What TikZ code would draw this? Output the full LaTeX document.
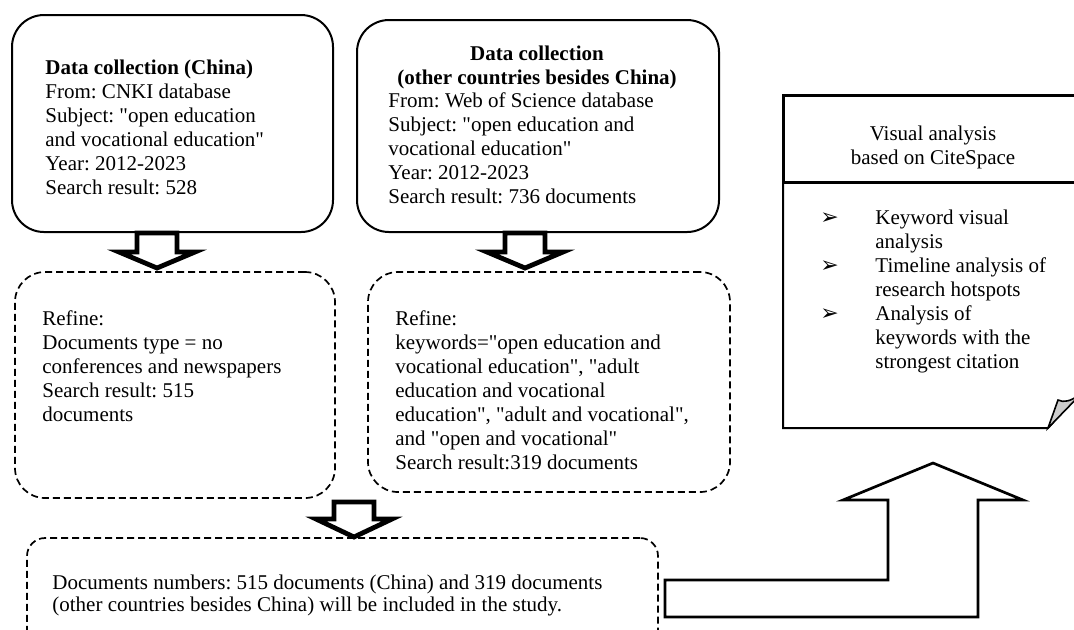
\documentclass[tikz,border=0pt]{standalone}
\usepackage{fontspec}
\setmainfont{Liberation Serif}
\newfontfamily\symfont{DejaVu Sans}
\newcommand{\llines}[1]{\begin{tabular}[t]{@{}l@{}}#1\end{tabular}}
\newcommand{\clines}[1]{\begin{tabular}[t]{@{}c@{}}#1\end{tabular}}
\newcommand{\qq}{\textquotedbl}
\frenchspacing
\begin{document}
\begin{tikzpicture}[x=0.5pt,y=-0.5pt,
  font=\fontsize{10.5}{12}\selectfont,
  solidbox/.style={draw, line width=1pt, rounded corners=16pt, inner sep=0pt},
  dashbox/.style={draw, line width=0.85pt, dash pattern=on 3.5pt off 2pt, rounded corners=15pt, inner sep=0pt},
  blockarrow/.style={draw, line width=2.4pt, fill=white, line join=miter},
  bigarrow/.style={draw, line width=1.35pt, fill=white, line join=miter},
  txt/.style={inner sep=0pt, anchor=base west},
  ctxt/.style={inner sep=0pt, anchor=base},
  bullet/.style={inner sep=0pt, anchor=base west, font=\symfont\fontsize{11}{12}\selectfont},
]
\useasboundingbox (0,0) rectangle (1074,629);
\clip (0,0) rectangle (1074,629);

% boxes
\node[solidbox, minimum width=160.5pt, minimum height=108.5pt] (china) at (172.5,123.5) {};
\node[solidbox, minimum width=181pt, minimum height=106pt] (other) at (538,126) {};
\node[dashbox, minimum width=160pt, minimum height=113pt] (ref1) at (175,385) {};
\node[dashbox, minimum width=181pt, minimum height=110pt] (ref2) at (549,382) {};
\node[dashbox, rounded corners=9pt, minimum width=315.5pt, minimum height=71pt] (final) at (342.5,609) {};

% CiteSpace box
\node[draw, line width=1.5pt, inner sep=0pt, minimum width=153.5pt, minimum height=43.5pt] (head) at (936.5,138.5) {};
\draw[line width=1pt, fill=white] (783,182) -- (783,428) -- (1048,428) -- (1082,390) -- (1082,182);
\filldraw[fill=gray!40, line width=0.8pt] (1048,428) -- (1058,400) .. controls (1064,403) and (1070,401) .. (1080,395) -- cycle;
\draw[line width=1.5pt] (783,182) -- (1082,182);

% texts
\node[txt] (t1) at (45,74) {\llines{\textbf{Data collection (China)}\\From: CNKI database\\Subject: \qq open education\\and vocational education\qq\\Year: 2012-2023\\Search result: 528}};
\node[ctxt] (t2h) at (537,60) {\clines{\textbf{Data collection}\\\textbf{(other countries besides China)}}};
\node[txt] (t2) at (388,107) {\llines{From: Web of Science database\\Subject: \qq open education and\\vocational education\qq\\Year: 2012-2023\\Search result: 736 documents}};
\node[txt] (t3) at (42,325) {\llines{Refine:\\Documents type = no\\conferences and newspapers\\Search result: 515\\documents}};
\node[txt] (t4) at (395,325) {\llines{Refine:\\keywords=\qq open education and\\vocational education\qq, \qq adult\\education and vocational\\education\qq, \qq adult and vocational\qq,\\and \qq open and vocational\qq\\Search result:319 documents}};
\node[txt, font=\fontsize{10.5}{11}\selectfont] (t5) at (52,589) {\llines{Documents numbers: 515 documents (China) and 319 documents\\(other countries besides China) will be included in the study.}};
\node[ctxt] (t6) at (933,140) {\clines{Visual analysis\\based on CiteSpace}};
\node[bullet] (b1) at (820,224) {➢};
\node[bullet] (b2) at (820,272) {➢};
\node[bullet] (b3) at (820,320) {➢};
\node[txt] (t7) at (875,224) {\llines{Keyword visual\\analysis\\Timeline analysis of\\research hotspots\\Analysis of\\keywords with the\\strongest citation}};

% block arrows
\draw[blockarrow] (137,233) -- (177,233) -- (177,252) -- (195,252) -- (157,268) -- (119,252) -- (137,252) -- cycle;
\draw[blockarrow] (505,233) -- (545,233) -- (545,252) -- (563,252) -- (525,268) -- (487,252) -- (505,252) -- cycle;
\draw[blockarrow] (334,502) -- (374,502) -- (374,519) -- (392,519) -- (354,537) -- (316,519) -- (334,519) -- cycle;
\draw[bigarrow] (665,580) -- (888,580) -- (888,500) -- (843,500) -- (933,463) -- (1023,500) -- (978,500) -- (978,617) -- (665,617) -- cycle;
\end{tikzpicture}
\end{document}
